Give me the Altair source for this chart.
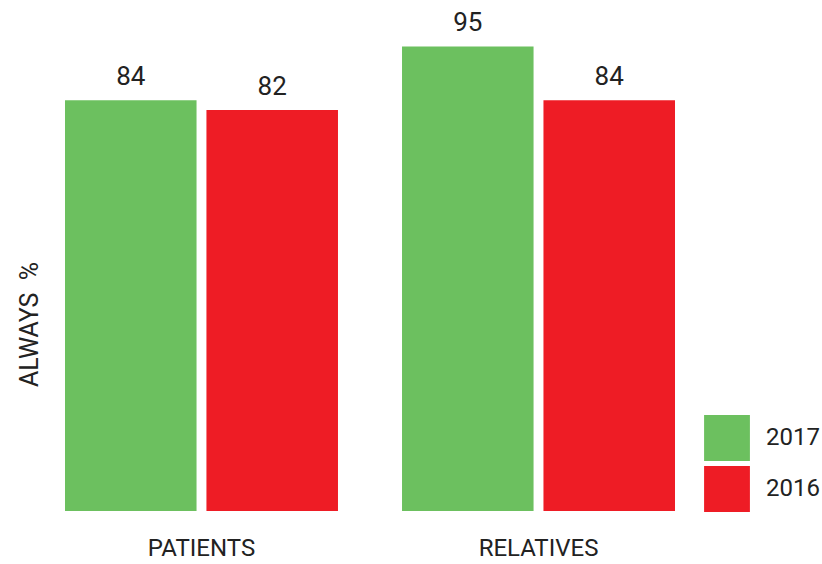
import altair as alt
import pandas as pd

groups = ["PATIENTS", "PATIENTS", "RELATIVES", "RELATIVES"]
years = ["2017", "2016", "2017", "2016"]
values = [84, 82, 95, 84]
year_order = ["2017", "2016"]
colors = ["#6cc05f", "#ee1c25"]

df = pd.DataFrame({"group": groups, "year": years, "value": values})

font = "Roboto"
txt = "#222222"

x = alt.X("group:N", axis=alt.Axis(title=None, labelAngle=0, labelFontSize=24, labelColor=txt,
                                   labelPadding=25, ticks=False, domain=False, labelFont=font),
          scale=alt.Scale(paddingInner=0.19, paddingOuter=0))
xo = alt.XOffset("year:N", sort=year_order, scale=alt.Scale(paddingInner=0.07, paddingOuter=0))
y = alt.Y("value:Q", scale=alt.Scale(domain=[0, 100]),
          axis=alt.Axis(title="ALWAYS\u00a0\u00a0%", labels=False, ticks=False, domain=False, grid=False,
                        titleFontSize=25, titleFontWeight="normal", titleX=-36, titleY=302,
                        titleBaseline="middle", titleFont=font, titleColor=txt))
color = alt.Color("year:N", sort=year_order,
                  scale=alt.Scale(domain=year_order, range=colors),
                  legend=alt.Legend(title=None, orient="none", legendX=639, legendY=393,
                                    symbolType="square", symbolSize=2100, symbolStrokeWidth=0,
                                    symbolOpacity=1, labelFontSize=24, labelOffset=16, rowPadding=5,
                                    labelFont=font, labelColor=txt))

base = alt.Chart(df)
bars = base.mark_bar().encode(x=x, xOffset=xo, y=y, color=color)
labels = base.mark_text(baseline="bottom", dy=-10, fontSize=26, font=font, color=txt).encode(
    x=x, xOffset=xo, y=y, text="value:Q")

chart = (bars + labels).properties(
    width=610, height=489,
    autosize=alt.AutoSizeParams(type="none"),
    padding={"left": 65, "top": 22, "right": 147, "bottom": 53},
    background="white",
).configure_view(stroke=None, strokeWidth=0)

chart.save("out.html", embed_options={"renderer": "svg", "actions": False})
